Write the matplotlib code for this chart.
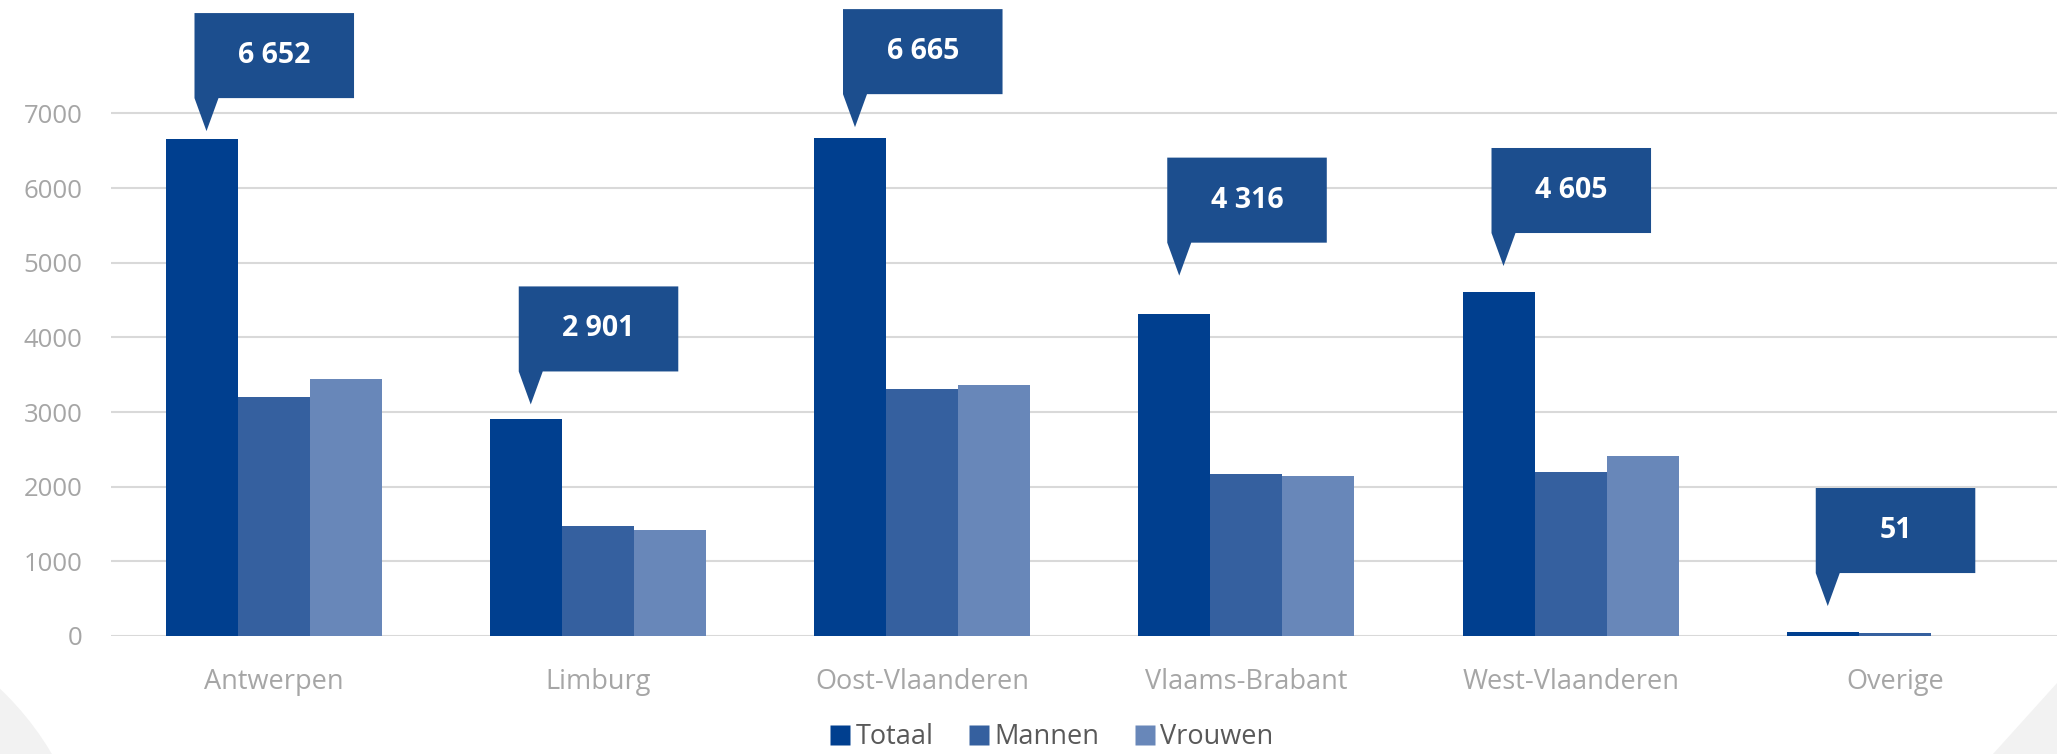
import matplotlib.pyplot as plt
import numpy as np
from matplotlib.patches import Polygon, Ellipse
from matplotlib.lines import Line2D

# ================= DATA =================
provinces = ['Antwerpen', 'Limburg', 'Oost-Vlaanderen', 'Vlaams-Brabant',
             'West-Vlaanderen', 'Overige']
totaal = [6652, 2901, 6665, 4316, 4605, 51]
mannen = [3205, 1477, 3306, 2172, 2197, 44]
vrouwen = [3447, 1424, 3359, 2144, 2408, 3]
callout_labels = ['6 652', '2 901', '6 665', '4 316', '4 605', '51']

# ================= STYLE =================
c_totaal = '#003f8f'
c_mannen = '#35609f'
c_vrouwen = '#6887b9'
c_callout = '#1c4e8e'
grid_color = '#d9d9d9'
tick_color = '#a6a6a6'
legend_color = '#595959'
font = ['Open Sans', 'DejaVu Sans']

# gap between bar top and callout tip (data units), one per province
callout_gap = [110, 200, 150, 510, 350, 350]
# =========================================

plt.rcParams['font.family'] = font

fig = plt.figure(figsize=(20.57, 7.54), dpi=100)
fig.patch.set_facecolor('white')

# light grey background shapes in the corners
fig.patches.append(Ellipse((-205 / 2057, 1 - 905 / 754), 2 * 298 / 2057, 2 * 298 / 754,
                           transform=fig.transFigure, facecolor='#f2f2f2',
                           edgecolor='none', zorder=0))
fig.patches.append(Polygon([(1993 / 2057, 0), (1, 71 / 754), (1, 0)], closed=True,
                           transform=fig.transFigure, facecolor='#f2f2f2',
                           edgecolor='none', zorder=0))

ax = fig.add_axes([0.0542, 0.1565, 0.9458, 0.8435])
ax.set_facecolor('none')

x = np.arange(len(provinces))
bw = 0.222

ax.bar(x - bw, totaal, bw, color=c_totaal, label='Totaal', zorder=3)
ax.bar(x, mannen, bw, color=c_mannen, label='Mannen', zorder=3)
ax.bar(x + bw, vrouwen, bw, color=c_vrouwen, label='Vrouwen', zorder=3)

ax.set_xlim(-0.5, 5.5)
ax.set_ylim(0, 8518)
ax.set_yticks(np.arange(0, 7001, 1000))
ax.yaxis.grid(True, color=grid_color, linewidth=1.5, zorder=0)
ax.set_axisbelow(True)
for s in ax.spines.values():
    s.set_visible(False)
ax.tick_params(axis='both', length=0, colors=tick_color, labelsize=19.5)
ax.tick_params(axis='y', pad=21, labelsize=18.5)
ax.tick_params(axis='x', pad=23)
ax.set_xticks(x)
ax.set_xticklabels(provinces)

# callouts above the Totaal bars
box_w = 0.492
box_h = 1139
ptr_h = 442
ptr_w = 0.074
for i, val in enumerate(totaal):
    tip_x = x[i] - bw + 0.015
    tip_y = val + callout_gap[i]
    base_y = tip_y + ptr_h
    left = tip_x - 0.037
    right = left + box_w
    top = base_y + box_h
    verts = [(left, top), (right, top), (right, base_y), (left + ptr_w, base_y),
             (tip_x, tip_y), (left, base_y)]
    ax.add_patch(Polygon(verts, closed=True, facecolor=c_callout,
                         edgecolor='none', zorder=5, clip_on=False))
    ax.text((left + right) / 2, base_y + box_h / 2, callout_labels[i],
            ha='center', va='center', color='white', fontsize=20.5,
            fontweight='bold', zorder=6)

handles = [Line2D([0], [0], marker='s', linestyle='none', markersize=14,
                  markerfacecolor=c, markeredgecolor='none')
           for c in (c_totaal, c_mannen, c_vrouwen)]
leg = fig.legend(handles, ['Totaal', 'Mannen', 'Vrouwen'], loc='center',
                 bbox_to_anchor=(0.5115, 0.022), ncol=3, frameon=False,
                 fontsize=19.5, handlelength=0.7, handletextpad=0.2,
                 columnspacing=1.35, borderpad=0.1)
for t in leg.get_texts():
    t.set_color(legend_color)

plt.savefig('out.png', dpi=100)
